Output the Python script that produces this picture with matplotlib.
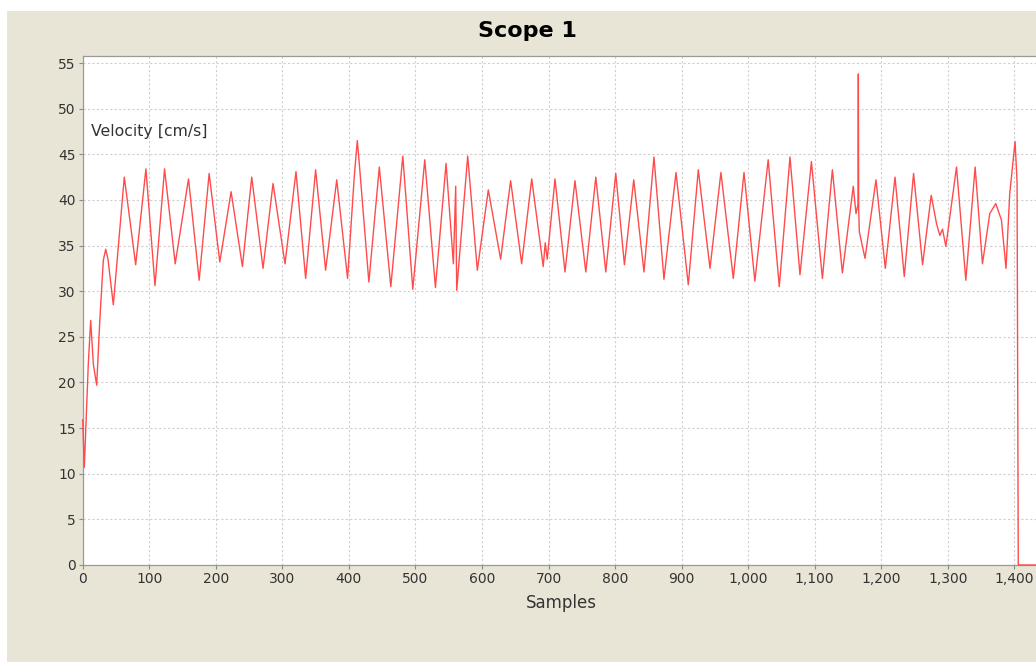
import matplotlib
matplotlib.use("Agg")
import matplotlib.pyplot as plt
from matplotlib.patches import Rectangle
from matplotlib.ticker import MultipleLocator, StrMethodFormatter

# velocity trace (turning points mostly)
samples = [0, 2.4, 8.4, 12, 16, 21, 26, 29, 31, 34.6, 38, 46,
           62.5, 79.6, 95, 108.6, 123, 139, 159, 175, 190, 206, 223, 240,
           254, 271, 286, 304, 320.5, 335, 350, 365, 381.7, 398, 408, 412.6,
           415.6, 430, 445.7, 463, 481, 496, 514, 530, 546, 557, 560.5, 562,
           578.5, 593, 609.5, 628, 643, 659.6, 674.7, 692, 695, 698, 709.7,
           724.7, 739.7, 756, 771, 786, 801, 814, 828, 843.4, 858.4, 873.4,
           891.5, 910, 925, 942.6, 959, 977.6, 993.7, 1010, 1030, 1046.7,
           1062.8, 1077.8, 1095, 1111.5, 1126.5, 1141.5, 1157.9, 1162, 1165,
           1165.5, 1166, 1167, 1175.5, 1192, 1206, 1220.6, 1234.5, 1248.5,
           1262, 1275, 1283, 1288, 1292, 1297, 1313, 1327, 1341, 1352, 1363,
           1372, 1380.5, 1387.4, 1393, 1401, 1404, 1405.8, 1440]
velocity = [15.9, 10.7, 22.0, 26.8, 22.0, 19.7, 27.2, 30.9, 33.4, 34.6, 33.5, 28.5,
            42.5, 32.9, 43.4, 30.6, 43.4, 33.0, 42.3, 31.2, 42.9, 33.2, 40.9, 32.7,
            42.5, 32.5, 41.8, 33.0, 43.1, 31.4, 43.3, 32.3, 42.2, 31.4, 42.5, 46.5,
            44.0, 31.0, 43.6, 30.5, 44.8, 30.2, 44.4, 30.4, 44.0, 33.0, 41.5, 30.1,
            44.8, 32.3, 41.1, 33.5, 42.1, 33.0, 42.3, 32.7, 35.3, 33.5, 42.3,
            32.1, 42.1, 32.1, 42.5, 32.1, 42.9, 32.9, 42.2, 32.1, 44.7, 31.3,
            43.0, 30.7, 43.3, 32.5, 43.0, 31.4, 43.0, 31.1, 44.4, 30.5,
            44.7, 31.8, 44.2, 31.4, 43.3, 32.0, 41.5, 38.5, 39.5,
            53.8, 39.1, 36.5, 33.6, 42.2, 32.5, 42.5, 31.6, 42.9,
            32.9, 40.5, 37.4, 36.1, 36.8, 34.9, 43.6, 31.2, 43.6, 33.0, 38.5,
            39.6, 37.8, 32.5, 40.7, 46.4, 42.0, 0.0, 0.0]

W, H = 1036, 662
fig = plt.figure(figsize=(W / 100, H / 100), dpi=100, facecolor="white")

# beige panel, white strip left and top
fig.patches.append(Rectangle((7 / W, 0), 1, (H - 11) / H, transform=fig.transFigure,
                             facecolor="#e9e5d6", edgecolor="none", zorder=-1))

ax = fig.add_axes([82.7 / W, (H - 565) / H, (1040 - 82.7) / W, (565 - 55.7) / H])
ax.set_facecolor("white")
ax.plot(samples, velocity, color="#ff4b4b", lw=1.0, clip_on=False, zorder=3,
        solid_joinstyle="round")

ax.set_xlim(0, (1040 - 82.7) / 0.6655)
ax.set_ylim(0, 55.8)
ax.xaxis.set_major_locator(MultipleLocator(100))
ax.yaxis.set_major_locator(MultipleLocator(5))
ax.xaxis.set_major_formatter(StrMethodFormatter("{x:,.0f}"))

ax.grid(True, color="#cfcfcf", ls=(0, (2, 2)), lw=0.8)
for s in ax.spines.values():
    s.set_color("#9a9a9a")
    s.set_linewidth(0.9)
ax.spines["right"].set_visible(False)
ax.tick_params(direction="out", length=3, width=0.8, color="#8a8a8a",
               labelsize=10, labelcolor="#333333", pad=2)

ax.set_xlabel("Samples", fontsize=12, color="#333333", labelpad=6)
ax.text(0.009, 0.852, "Velocity [cm/s]", transform=ax.transAxes, fontsize=11.3,
        color="#333333", va="center", ha="left")
fig.text(527 / W, 1 - 31 / H, "Scope 1", ha="center", va="center",
         fontsize=16, fontweight="bold", color="black")

fig.savefig("out.png", dpi=100, facecolor=fig.get_facecolor())
